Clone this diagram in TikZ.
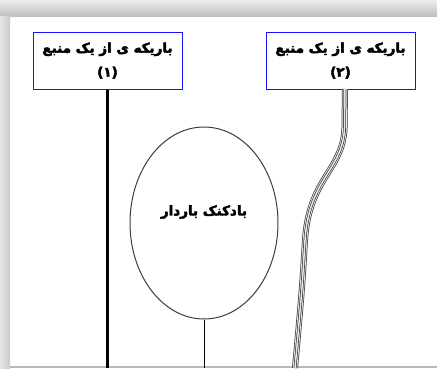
\documentclass[tikz,border=0pt]{standalone}
\usepackage{fontspec}
\usetikzlibrary{shapes.geometric}
\TeXXeTstate=1
\newfontfamily\fafont[Script=Arabic, BoldFont={DejaVu Sans Bold}]{DejaVu Sans}
% heavier text: fill and stroke the glyph outlines
\newcommand{\heavy}[1]{\special{pdf:literal 2 Tr 0.45 w}#1\special{pdf:literal 0 Tr}}
\definecolor{boxblue}{RGB}{20,20,255}
\definecolor{inkgray}{RGB}{60,60,60}
\tikzset{
  srcbox/.style={draw=boxblue, line width=1pt, fill=white, minimum width=149pt, minimum height=57pt,
    inner sep=0pt, align=center, font=\fafont\bfseries\fontsize{13.5}{24}\selectfont},
  balloon/.style={ellipse, draw=inkgray, line width=1pt, minimum width=148pt, minimum height=192pt,
    inner sep=0pt},
  balloontext/.style={font=\fafont\bfseries\fontsize{13.5}{14}\selectfont},
  beamA/.style={line width=3pt, line cap=butt},
  stripe/.style={line cap=butt}
}
\begin{document}
\begin{tikzpicture}[x=1pt,y=-1pt]
  \useasboundingbox (0,0) rectangle (437,368);
  % page background and frame shadow
  \fill[white] (0,0) rectangle (437,368);
  \shade[top color=gray!15, bottom color=gray!50] (0,0) rectangle (437,16);
  \shade[left color=gray!20, right color=gray!42] (0,16) rectangle (10,368);
  \fill[gray!55] (10,366) rectangle (437,368);

  % source boxes
  \node[srcbox] (box1) at (107.5,60.5) {\heavy{\beginR باریکه ی از یک منبع\endR}\\\heavy{(۱)}};
  \node[srcbox] (box2) at (340.5,60.5) {\heavy{\beginR باریکه ی از یک منبع\endR}\\\heavy{(۲)}};

  % charged balloon and its string
  \node[balloon] (balloon) at (204,223) {};
  \node[balloontext] (balloonlabel) at (204,212) {\heavy{\beginR بادکنک باردار\endR}};
  \coordinate (stringend) at (204,368);
  \draw[line width=0.8pt, black] (balloon.south) -- (stringend);

  % straight beam from source 1
  \coordinate (beam1end) at (107.5,368);
  \draw[beamA, black] (box1.south) -- (beam1end);

  % bent beam from source 2, drawn as parallel strands
  \coordinate (b2start) at (345,89);
  \coordinate (b2end) at (295,368);
  \def\beampath{(b2start) -- (344.5,128) .. controls (343,170) and (309,178) .. (305,240) .. controls (302,290) .. (b2end)}
  \draw[stripe, line width=6pt, inkgray] \beampath;
  \draw[stripe, line width=4.5pt, white] \beampath;
  \draw[stripe, line width=3pt, inkgray] \beampath;
  \draw[stripe, line width=1.5pt, white!80!gray] \beampath;
\end{tikzpicture}
\end{document}
